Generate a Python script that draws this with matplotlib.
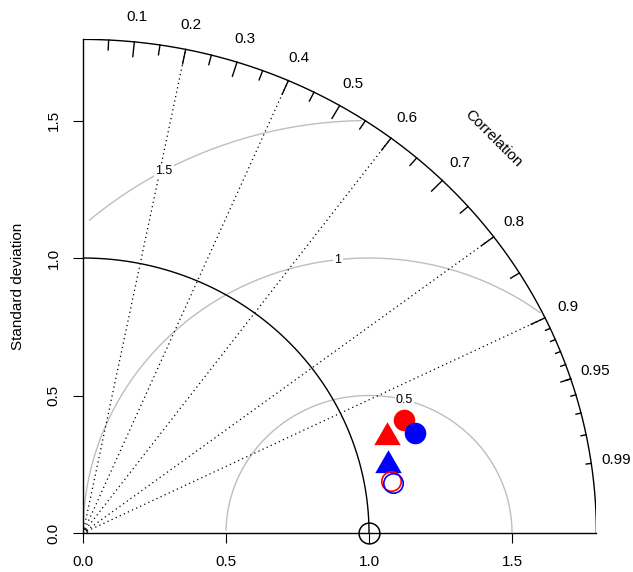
import numpy as np
import matplotlib

matplotlib.use("Agg")

import matplotlib.pyplot as plt
from matplotlib.path import Path

plt.rcParams["font.family"] = ["Liberation Sans", "DejaVu Sans"]

# Diagram extent and the reference (observed) standard deviation
MAX_SD = 1.795
REF_SD = 1.0

sd_ticks = [0.0, 0.5, 1.0, 1.5]
sd_tick_labels = ["0.0", "0.5", "1.0", "1.5"]

corr_grid_lines = [0.2, 0.4, 0.6, 0.8, 0.9]
corr_major_ticks = [0.1, 0.2, 0.3, 0.4, 0.5, 0.6, 0.7, 0.8, 0.9]
corr_medium_ticks = [0.05, 0.15, 0.25, 0.35, 0.45, 0.55, 0.65, 0.75, 0.85, 0.95]
corr_minor_ticks = [0.91, 0.92, 0.93, 0.94, 0.95, 0.96, 0.97, 0.98, 0.99]
corr_labels = [0.1, 0.2, 0.3, 0.4, 0.5, 0.6, 0.7, 0.8, 0.9, 0.95, 0.99]

rms_levels = [0.5, 1.0, 1.5]
rms_level_labels = ["0.5", "1", "1.5"]

# Model statistics: standard deviation and correlation with the reference
model_sd = [1.196, 1.216, 1.120, 1.096, 1.095, 1.101]
model_corr = [0.939, 0.954, 0.950, 0.974, 0.985, 0.986]

model_colors = ["red", "blue", "red", "blue", "red", "blue"]
model_kinds = ["disc", "disc", "triangle", "triangle", "ring", "ring"]

GREY = "#BEBEBE"

# Equilateral triangle centred on its centroid (like R's pch 17)
TRIANGLE = Path(
    [(0.0, 1.0), (-0.866, -0.5), (0.866, -0.5), (0.0, 1.0)],
    [Path.MOVETO, Path.LINETO, Path.LINETO, Path.CLOSEPOLY],
)


def polar_to_xy(radius, corr):
    angle = np.arccos(np.asarray(corr, dtype=float))
    return radius * np.cos(angle), radius * np.sin(angle)


def draw_frame(axis):
    theta = np.linspace(0, np.pi / 2, 300)
    axis.plot(MAX_SD * np.cos(theta), MAX_SD * np.sin(theta), color="black", lw=1.0)
    axis.plot(REF_SD * np.cos(theta), REF_SD * np.sin(theta), color="black", lw=1.0)
    axis.plot(0.015 * np.cos(theta), 0.015 * np.sin(theta), color="black", lw=0.8)

    for spine in ("top", "right"):
        axis.spines[spine].set_visible(False)
    for spine in ("left", "bottom"):
        axis.spines[spine].set_linewidth(1.0)

    axis.set_xticks(sd_ticks)
    axis.set_xticklabels(sd_tick_labels, fontsize=11)
    axis.set_yticks(sd_ticks)
    axis.set_yticklabels(sd_tick_labels, fontsize=11, rotation=90, va="center")
    axis.tick_params(direction="out", length=7.2, width=0.8, pad=9)


def draw_correlation_scale(axis):
    for corr in corr_grid_lines:
        x, y = polar_to_xy(MAX_SD, corr)
        axis.plot([0, x], [0, y], color="black", lw=0.9, linestyle=(0, (1, 2.6)))

    for ticks, inner in ((corr_major_ticks, 0.97), (corr_medium_ticks, 0.98), (corr_minor_ticks, 0.99)):
        for corr in ticks:
            x0, y0 = polar_to_xy(MAX_SD, corr)
            x1, y1 = polar_to_xy(MAX_SD * inner, corr)
            axis.plot([x0, x1], [y0, y1], color="black", lw=1.0)

    for corr in corr_labels:
        x, y = polar_to_xy(MAX_SD * 1.05, corr)
        axis.text(x, y, f"{corr:g}", fontsize=11, ha="center", va="center")

    axis.text(MAX_SD * 0.8, MAX_SD * 0.8, "Correlation", fontsize=11,
              rotation=-45, ha="center", va="center", rotation_mode="anchor")


def draw_rms_circles(axis):
    # coarse sampling of each circle, points outside the quadrant dropped
    theta = np.arange(0, np.pi, 0.03)
    label_index = [44, 56, 69]
    for level, label, idx in zip(rms_levels, rms_level_labels, label_index):
        x = REF_SD + level * np.cos(theta)
        y = level * np.sin(theta)
        inside = (x >= 0) & (x ** 2 + y ** 2 <= MAX_SD ** 2)
        axis.plot(x[inside], y[inside], color=GREY, lw=1.0)

        axis.text(
            x[idx],
            y[idx],
            label,
            fontsize=9,
            ha="center",
            va="center",
            bbox=dict(boxstyle="square,pad=0.1", facecolor="white", edgecolor="none"),
        )


def draw_models(axis):
    axis.plot(REF_SD, 0, marker="o", markersize=15, markerfacecolor="none",
              markeredgecolor="black", markeredgewidth=1.1, clip_on=False, zorder=5)

    xs, ys = polar_to_xy(np.asarray(model_sd), model_corr)
    for x, y, color, kind in zip(xs, ys, model_colors, model_kinds):
        if kind == "disc":
            axis.plot(x, y, marker="o", markersize=15.5, color=color, markeredgewidth=0, zorder=6)
        elif kind == "triangle":
            axis.plot(x, y, marker=TRIANGLE, markersize=22, color=color, markeredgewidth=0, zorder=6)
        else:
            axis.plot(x, y, marker="o", markersize=14, markerfacecolor="none",
                      markeredgecolor=color, markeredgewidth=1.2, zorder=7)


figure = plt.figure(figsize=(6.33, 5.72), dpi=100)
left_px, right_px, bottom_px, top_px = 83, 596.4, 533, 39.4
axis = figure.add_axes([
    left_px / 633,
    (572 - bottom_px) / 572,
    (right_px - left_px) / 633,
    (bottom_px - top_px) / 572,
])
axis.set_xlim(0, MAX_SD)
axis.set_ylim(0, MAX_SD)

draw_rms_circles(axis)
draw_correlation_scale(axis)
draw_frame(axis)
draw_models(axis)

figure.text(18 / 633, 1 - 286 / 572, "Standard deviation", fontsize=11,
            rotation=90, ha="center", va="center")

figure.savefig("out.png", dpi=100)
plt.close(figure)
